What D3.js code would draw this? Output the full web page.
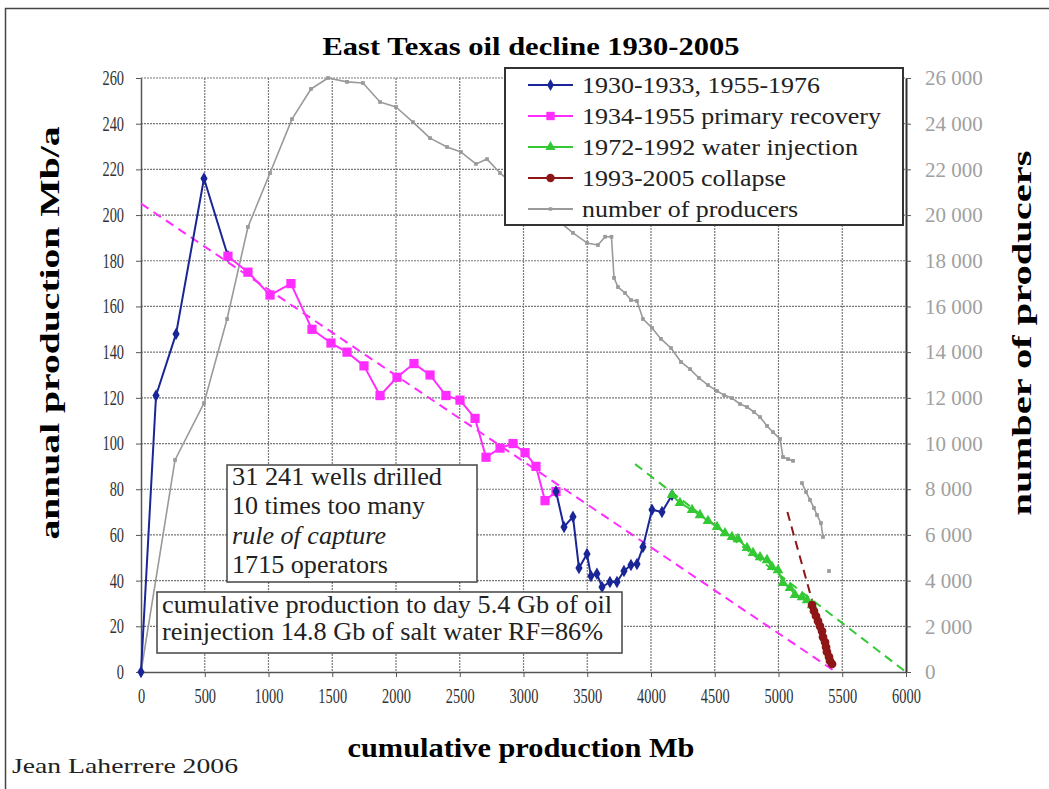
<!DOCTYPE html>
<html>
<head>
<meta charset="utf-8">
<script src="https://cdn.jsdelivr.net/npm/d3@7"></script>
<style>
body{margin:0;background:#fff;}
</style>
</head>
<body>
<div id="chart"></div>
<script>
// values: x = cumulative production (Mb), y = annual production (Mb/a)
var earlyX = [0, 118, 275, 494, 682];
var earlyY = [0, 121, 148, 216, 182];

var primaryX = [682, 839, 1012, 1176, 1341, 1490, 1616, 1749, 1875, 2008, 2141, 2267, 2392, 2502, 2620, 2706, 2816, 2918, 3012, 3098, 3169, 3255];
var primaryY = [182, 175, 165, 170, 150, 144, 140, 134, 121, 129, 135, 130, 121, 119, 111, 94, 98, 100, 96, 90, 75, 79];

var lateX = [3255, 3318, 3388, 3435, 3498, 3529, 3576, 3616, 3678, 3733, 3788, 3843, 3890, 3937, 4008, 4086, 4165];
var lateY = [79, 63.5, 68, 45.5, 51.6, 42, 43, 37.2, 39.4, 39.4, 44.2, 46.8, 47.3, 54.7, 71, 70, 77.5];

var waterX = [4165, 4227, 4322, 4384, 4447, 4518, 4580, 4635, 4682, 4753, 4800, 4855, 4910, 4949, 4996, 5035, 5090, 5129, 5184, 5224, 5263];
var waterY = [77.5, 74, 70.9, 68.7, 66.1, 63.5, 60.8, 59.1, 58.2, 54.3, 52.1, 50.3, 49, 46, 44.6, 39, 36.8, 33.7, 32.8, 31.5, 29.3];

var collapseX = [5263, 5278, 5294, 5310, 5325, 5341, 5349, 5365, 5373, 5380, 5396, 5404, 5420];
var collapseY = [29.3, 26.7, 24.5, 22.3, 20.1, 17.9, 15.3, 13.1, 10.9, 8.8, 6.6, 4.8, 3.5];

// number of producers (right axis), null = gap in the curve
var producersX = [0, 267, 494, 675, 839, 1012, 1184, 1333, 1467, 1616, 1741, 1875, 2000, 2133, 2267, 2400, 2510, 2627, 2714, 2816,
    3388, 3498, 3584, 3640, 3690, 3710, 3741, 3796, 3843, 3890, 3937, 4008, 4078, 4157, 4235, 4306, 4376, 4447, 4518, 4573, 4635,
    4698, 4753, 4808, 4855, 4910, 4957, 5012, 5035, 5075, 5114, 5140,
    5184, 5216, 5247, 5278, 5302, 5333, 5349, 5370, 5396];
var producersY = [0, 9280, 11770, 15450, 19480, 21840, 24200, 25520, 26000, 25830, 25780, 24950, 24730, 24070, 23370, 22980, 22760, 22240, 22450, 21840,
    19220, 18780, 18690, 19050, 19050, 17250, 16850, 16590, 16280, 16240, 15450, 15060, 14580, 14180, 13570, 13260, 12870, 12560, 12300, 12120, 11990,
    11730, 11600, 11380, 11160, 10770, 10500, 10200, 9410, 9320, 9240, null,
    8270, 7880, 7530, 7180, 6870, 6520, 5910, null, 4420];

// dashed trend lines
var trendPrimaryX = [0, 5450];
var trendPrimaryY = [205, 0];
var trendWaterX = [3875, 6000];
var trendWaterY = [91, 0];
var trendCollapseX = [5070, 5270];
var trendCollapseY = [70, 30];

var xTicks = [0, 500, 1000, 1500, 2000, 2500, 3000, 3500, 4000, 4500, 5000, 5500, 6000];
var yTicks = [0, 20, 40, 60, 80, 100, 120, 140, 160, 180, 200, 220, 240, 260];
var y2Ticks = [0, 2000, 4000, 6000, 8000, 10000, 12000, 14000, 16000, 18000, 20000, 22000, 24000, 26000];

var legendLabels = ["1930-1933, 1955-1976", "1934-1955 primary recovery", "1972-1992 water injection", "1993-2005 collapse", "number of producers"];
var wellsNote = ["31 241 wells drilled", "10 times too many", "rule of capture", "1715 operators"];
var cumNote = ["cumulative production to day 5.4 Gb of oil", "reinjection 14.8 Gb of salt water RF=86%"];

var W = 1049, H = 789;
var plot = {left: 141, top: 78, right: 906, bottom: 672};
var serif = "'Liberation Serif', Tinos, 'Times New Roman', Times, serif";

var colors = {early: "#1a2596", primary: "#ff2cff", water: "#34c934", collapse: "#8e1616", producers: "#9a9a9a"};

var svg = d3.select("#chart").append("svg").attr("width", W).attr("height", H)
    .attr("font-family", serif);

var x = d3.scaleLinear().domain([0, 6000]).range([plot.left, plot.right]);
var y = d3.scaleLinear().domain([0, 260]).range([plot.bottom, plot.top]);
var y2 = d3.scaleLinear().domain([0, 26000]).range([plot.bottom, plot.top]);

function fit(sel, w) {
    sel.attr("textLength", w).attr("lengthAdjust", "spacingAndGlyphs");
    return sel;
}

function zip(xs, ys) {
    return xs.map(function(v, i) { return {x: v, y: ys[i]}; });
}

// outer frame
svg.append("rect").attr("x", 5.5).attr("y", 8.5).attr("width", W + 20).attr("height", H + 20)
    .attr("fill", "none").attr("stroke", "#444").attr("stroke-width", 1.5);

// grid
var grid = svg.append("g").attr("class", "grid");
grid.selectAll("line.v").data(xTicks.filter(function(d) { return d > 0 && d < 6000; }))
    .enter().append("line").attr("class", "v")
    .attr("x1", function(d) { return x(d); }).attr("x2", function(d) { return x(d); })
    .attr("y1", plot.top).attr("y2", plot.bottom);
grid.selectAll("line.h").data(yTicks.filter(function(d) { return d > 0; }))
    .enter().append("line").attr("class", "h")
    .attr("y1", function(d) { return y(d); }).attr("y2", function(d) { return y(d); })
    .attr("x1", plot.left).attr("x2", plot.right);
grid.selectAll("line").attr("stroke", "#777").attr("stroke-width", 1.2).attr("stroke-dasharray", "2,1");

// axes
var xAxis = svg.append("g").attr("transform", "translate(0," + plot.bottom + ")")
    .call(d3.axisBottom(x).tickValues(xTicks).tickSize(5).tickSizeOuter(0).tickFormat(d3.format("d")));
xAxis.selectAll("text").attr("y", 0).attr("dy", "1.55em");

var yAxis = svg.append("g").attr("transform", "translate(" + plot.left + ",0)")
    .call(d3.axisLeft(y).tickValues(yTicks).tickSize(5).tickSizeOuter(0));
yAxis.selectAll("text").attr("x", -17 / 0.72);

var y2Axis = svg.append("g").attr("transform", "translate(" + plot.right + ",0)")
    .call(d3.axisRight(y2).tickValues(y2Ticks).tickSize(5).tickSizeOuter(0)
        .tickFormat(function(d) { return d3.format(",")(d).replace(/,/g, " "); }));
y2Axis.selectAll("text").attr("x", 19).attr("fill", "#a0a0a0").attr("font-size", 21);

[xAxis, yAxis].forEach(function(a) {
    a.selectAll("text").attr("fill", "#333").attr("font-size", 20).attr("transform", "scale(0.72,1)");
});
[xAxis, yAxis, y2Axis].forEach(function(a) {
    a.attr("font-family", serif);
    a.selectAll("line").attr("stroke", "#555");
    a.select(".domain").attr("stroke", "#555").attr("stroke-width", 1.5);
});
y2Axis.select(".domain").attr("stroke", "#333").attr("stroke-width", 2);

// dashed trends
function trend(xs, ys, color) {
    svg.append("path").datum(zip(xs, ys))
        .attr("fill", "none").attr("stroke", color).attr("stroke-width", 2)
        .attr("stroke-dasharray", "9,6")
        .attr("d", d3.line().x(function(d) { return x(d.x); }).y(function(d) { return y(d.y); }));
}
trend(trendPrimaryX, trendPrimaryY, colors.primary);
trend(trendWaterX, trendWaterY, colors.water);
trend(trendCollapseX, trendCollapseY, colors.collapse);

// series
function series(data, yScale, color, symbol, size, lw) {
    var g = svg.append("g");
    var line = d3.line()
        .defined(function(d) { return d.y !== null; })
        .x(function(d) { return x(d.x); })
        .y(function(d) { return yScale(d.y); });
    g.append("path").datum(data)
        .attr("fill", "none").attr("stroke", color).attr("stroke-width", lw)
        .attr("stroke-linejoin", "round").attr("d", line);
    g.selectAll("path.pt").data(data.filter(function(d) { return d.y !== null; }))
        .enter().append("path").attr("class", "pt")
        .attr("transform", function(d) { return "translate(" + x(d.x) + "," + yScale(d.y) + ")"; })
        .attr("d", d3.symbol().type(symbol).size(size))
        .attr("fill", color);
}

series(zip(producersX, producersY), y2, colors.producers, d3.symbolSquare, 14, 1.6);
series(zip(earlyX, earlyY), y, colors.early, d3.symbolDiamond, 45, 2);
series(zip(primaryX, primaryY), y, colors.primary, d3.symbolSquare, 85, 2);
series(zip(lateX, lateY), y, colors.early, d3.symbolDiamond, 45, 2);
series(zip(waterX, waterY), y, colors.water, d3.symbolTriangle, 50, 2);
series(zip(collapseX, collapseY), y, colors.collapse, d3.symbolCircle, 60, 2);

// legend
var legend = svg.append("g");
legend.append("rect").attr("x", 505).attr("y", 68).attr("width", 398).attr("height", 157)
    .attr("fill", "#fff").attr("stroke", "#333").attr("stroke-width", 2);
var legendStyle = [
    {color: colors.early, symbol: d3.symbolDiamond, size: 40},
    {color: colors.primary, symbol: d3.symbolSquare, size: 70},
    {color: colors.water, symbol: d3.symbolTriangle, size: 45},
    {color: colors.collapse, symbol: d3.symbolCircle, size: 55},
    {color: colors.producers, symbol: d3.symbolSquare, size: 12}
];
var legendWidths = [238, 299, 276, 204, 216];
legendLabels.forEach(function(label, i) {
    var base = 93 + i * 31;
    var s = legendStyle[i];
    legend.append("line").attr("x1", 528).attr("x2", 573).attr("y1", base - 8).attr("y2", base - 8)
        .attr("stroke", s.color).attr("stroke-width", 2);
    legend.append("path").attr("transform", "translate(550.5," + (base - 8) + ")")
        .attr("d", d3.symbol().type(s.symbol).size(s.size)).attr("fill", s.color);
    fit(legend.append("text").attr("x", 582).attr("y", base).attr("font-size", 23).attr("fill", "#222").text(label), legendWidths[i]);
});

// notes
var note1 = svg.append("g");
note1.append("rect").attr("x", 227).attr("y", 465).attr("width", 250).attr("height", 117)
    .attr("fill", "#fff").attr("stroke", "#444").attr("stroke-width", 1.5);
var note1Widths = [210, 193, 154, 156];
wellsNote.forEach(function(t, i) {
    var tx = note1.append("text").attr("x", 232).attr("y", 485 + i * 29.3).attr("font-size", 25).attr("fill", "#222").text(t);
    if (i === 2) tx.attr("font-style", "italic");
    fit(tx, note1Widths[i]);
});

var note2 = svg.append("g");
note2.append("rect").attr("x", 157).attr("y", 592).attr("width", 465).attr("height", 61)
    .attr("fill", "#fff").attr("stroke", "#444").attr("stroke-width", 1.5);
var note2Widths = [450, 441];
cumNote.forEach(function(t, i) {
    fit(note2.append("text").attr("x", 162).attr("y", 613 + i * 27).attr("font-size", 25).attr("fill", "#222").text(t), note2Widths[i]);
});

// titles
fit(svg.append("text").attr("x", 531).attr("y", 55).attr("text-anchor", "middle")
    .attr("font-size", 26).attr("font-weight", "bold").text("East Texas oil decline 1930-2005"), 417);
fit(svg.append("text").attr("x", 521).attr("y", 757).attr("text-anchor", "middle")
    .attr("font-size", 27).attr("font-weight", "bold").text("cumulative production Mb"), 347);
fit(svg.append("text").attr("transform", "translate(59,333) rotate(-90)").attr("text-anchor", "middle")
    .attr("font-size", 27).attr("font-weight", "bold").text("annual production Mb/a"), 413);
fit(svg.append("text").attr("transform", "translate(1031,333) rotate(-90)").attr("text-anchor", "middle")
    .attr("font-size", 27).attr("font-weight", "bold").text("number of producers"), 365);
fit(svg.append("text").attr("x", 12).attr("y", 773).attr("font-size", 22).attr("fill", "#222").text("Jean Laherrere 2006"), 226);
</script>
</body>
</html>
